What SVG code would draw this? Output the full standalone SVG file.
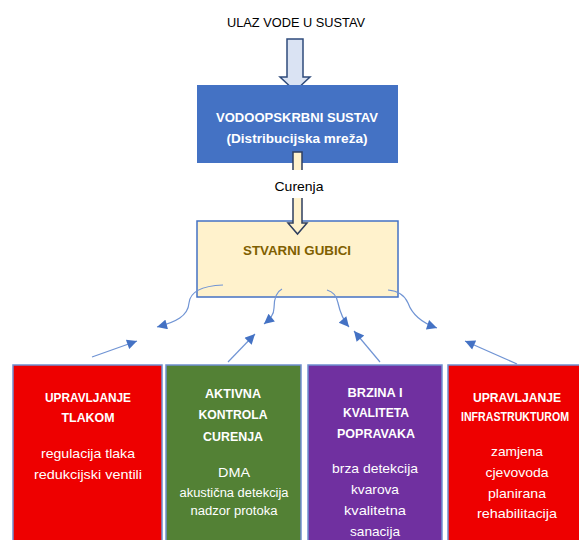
<svg xmlns="http://www.w3.org/2000/svg" width="579" height="540" viewBox="0 0 579 540">
<defs>
<style>
text{font-family:"Liberation Sans",Arial,sans-serif;text-anchor:middle}
.w{fill:#ffffff}
.b{font-weight:bold}
.h{font-size:13px;font-weight:bold;fill:#ffffff}
.t{font-size:13.5px;fill:#ffffff}
.s{font-size:12px;fill:#ffffff}
.con{fill:none;stroke:#7094d4;stroke-width:1.2}
.box{stroke:#6f8fd0;stroke-width:1.5}
</style>
<marker id="ah" viewBox="0 0 10 10" refX="10" refY="5" markerWidth="12" markerHeight="10" markerUnits="userSpaceOnUse" orient="auto">
<path d="M0,0 L10,5 L0,10 Z" fill="#4472c4"/>
</marker>
</defs>
<rect width="579" height="540" fill="#ffffff"/>

<g id="input-label">
<text x="296" y="27" font-size="13.5" fill="#000000" textLength="138" lengthAdjust="spacingAndGlyphs">ULAZ VODE U SUSTAV</text>
</g>

<g id="input-arrow">
<path d="M287,39 L303,39 L303,77 L310,77 L295,91 L280,77 L287,77 Z" fill="#dae3f3" stroke="#2f4b7c" stroke-width="1.5" stroke-linejoin="miter"/>
</g>

<g id="vodoopskrbni">
<rect x="197" y="85" width="201" height="78" fill="#4472c4"/>
<text x="297" y="122" class="b w" font-size="13.5" textLength="162" lengthAdjust="spacingAndGlyphs">VODOOPSKRBNI SUSTAV</text>
<text x="297" y="143" class="b w" font-size="13.5" textLength="141" lengthAdjust="spacingAndGlyphs">(Distribucijska mreža)</text>
</g>

<g id="stvarni-gubici">
<rect x="197" y="221" width="201" height="76" fill="#fff2cc" stroke="#4472c4" stroke-width="1.5"/>
<text x="297" y="255" class="b" font-size="13.5" fill="#7f6000" textLength="108" lengthAdjust="spacingAndGlyphs">STVARNI GUBICI</text>
</g>

<g id="leak-arrow">
<path d="M293,152 L302,152 L302,223 L307,223 L297.5,234 L288,223 L293,223 Z" fill="#fff2cc" stroke="#2f3f5f" stroke-width="1.5"/>
<rect x="268" y="170" width="60" height="28" fill="#ffffff"/>
<text x="299" y="191" font-size="13.5" fill="#000000" textLength="49" lengthAdjust="spacingAndGlyphs">Curenja</text>
</g>

<g id="upravljanje-tlakom">
<rect x="13" y="365" width="149" height="180" fill="#ee0000" class="box"/>
<text x="88" y="402" class="h" textLength="86" lengthAdjust="spacingAndGlyphs">UPRAVLJANJE</text>
<text x="88" y="422" class="h" textLength="53" lengthAdjust="spacingAndGlyphs">TLAKOM</text>
<text x="88" y="458" class="t" textLength="94" lengthAdjust="spacingAndGlyphs">regulacija tlaka</text>
<text x="88" y="479" class="t" textLength="108" lengthAdjust="spacingAndGlyphs">redukcijski ventili</text>
</g>

<g id="aktivna-kontrola">
<rect x="166" y="365" width="135" height="180" fill="#538135" class="box"/>
<text x="233" y="398" class="h" textLength="56" lengthAdjust="spacingAndGlyphs">AKTIVNA</text>
<text x="233" y="419" class="h" textLength="69" lengthAdjust="spacingAndGlyphs">KONTROLA</text>
<text x="233" y="441" class="h" textLength="60" lengthAdjust="spacingAndGlyphs">CURENJA</text>
<text x="234" y="477" class="t" font-size="14" textLength="32" lengthAdjust="spacingAndGlyphs">DMA</text>
<text x="234" y="497" class="s" textLength="109" lengthAdjust="spacingAndGlyphs">akustična detekcija</text>
<text x="234" y="515" class="s" textLength="87" lengthAdjust="spacingAndGlyphs">nadzor protoka</text>
</g>

<g id="brzina-kvaliteta">
<rect x="308" y="365" width="134" height="180" fill="#7030a0" class="box"/>
<text x="375" y="397" class="h" textLength="55" lengthAdjust="spacingAndGlyphs">BRZINA I</text>
<text x="376" y="417" class="h" textLength="66" lengthAdjust="spacingAndGlyphs">KVALITETA</text>
<text x="376" y="438" class="h" textLength="78" lengthAdjust="spacingAndGlyphs">POPRAVAKA</text>
<text x="375" y="473" class="t" textLength="86" lengthAdjust="spacingAndGlyphs">brza detekcija</text>
<text x="375" y="494" class="t" textLength="48" lengthAdjust="spacingAndGlyphs">kvarova</text>
<text x="375" y="515" class="t" textLength="62" lengthAdjust="spacingAndGlyphs">kvalitetna</text>
<text x="375" y="536" class="t" textLength="50" lengthAdjust="spacingAndGlyphs">sanacija</text>
</g>

<g id="upravljanje-infrastrukturom">
<rect x="448" y="365" width="132" height="180" fill="#ee0000" class="box"/>
<text x="517" y="402" class="h" textLength="88" lengthAdjust="spacingAndGlyphs">UPRAVLJANJE</text>
<text x="515" y="421" class="h" style="font-size:12px" textLength="108" lengthAdjust="spacingAndGlyphs">INFRASTRUKTUROM</text>
<text x="517" y="456" class="t" textLength="52" lengthAdjust="spacingAndGlyphs">zamjena</text>
<text x="517" y="477" class="t" textLength="63" lengthAdjust="spacingAndGlyphs">cjevovoda</text>
<text x="517" y="498" class="t" textLength="58" lengthAdjust="spacingAndGlyphs">planirana</text>
<text x="517" y="518" class="t" textLength="80" lengthAdjust="spacingAndGlyphs">rehabilitacija</text>
</g>

<g id="connectors">
<path class="con" d="M223,285 C200,286 190,292 189,303 C188,316 176,322 157,327" marker-end="url(#ah)"/>
<path class="con" d="M282,289 C276,292 274,300 274,308 C274,315 270,319 264,324" marker-end="url(#ah)"/>
<path class="con" d="M327,290 C334,292 337,297 338,303 C340,312 343,320 349,327" marker-end="url(#ah)"/>
<path class="con" d="M388,290 C400,291 405,296 408,303 C412,314 422,323 437,328" marker-end="url(#ah)"/>
<path class="con" d="M92,357 L137,341" marker-end="url(#ah)"/>
<path class="con" d="M228,362 L255,334" marker-end="url(#ah)"/>
<path class="con" d="M380,362 L354,331" marker-end="url(#ah)"/>
<path class="con" d="M517,364 L465,341" marker-end="url(#ah)"/>
</g>
</svg>
